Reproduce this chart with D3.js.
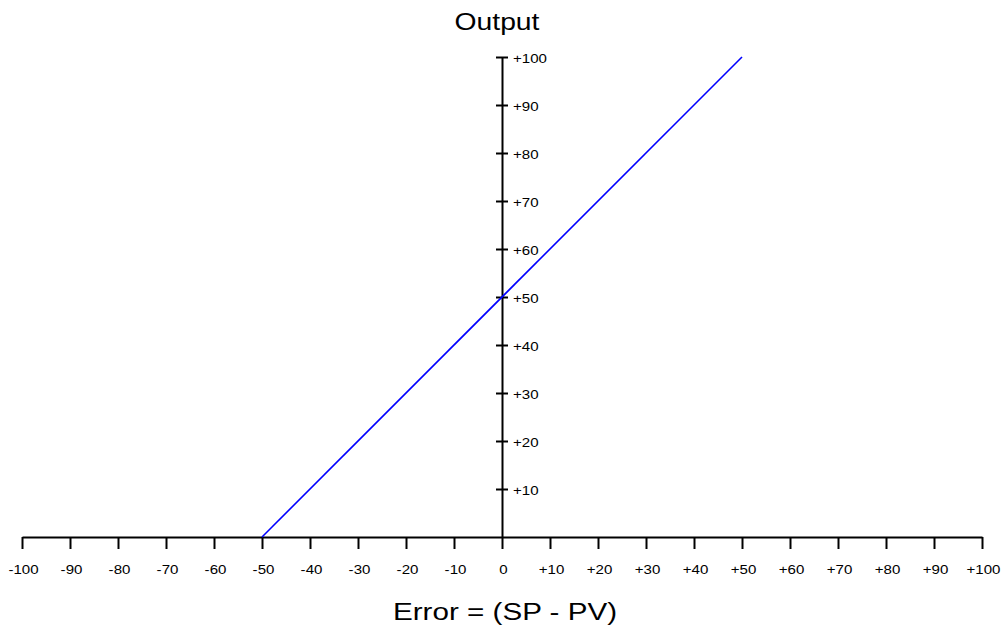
<!DOCTYPE html>
<html>
<head>
<meta charset="utf-8">
<script src="https://cdn.jsdelivr.net/npm/d3@7"></script>
<style>
  body { margin: 0; background: #fff; }
  text { font-family: Arial, "Liberation Sans", sans-serif; }
</style>
</head>
<body>
<div id="chart"></div>
<script>
var width = 1005, height = 626;

// data
var errorTicks = [-100, -90, -80, -70, -60, -50, -40, -30, -20, -10, 0, 10, 20, 30, 40, 50, 60, 70, 80, 90, 100];
var outputTicks = [10, 20, 30, 40, 50, 60, 70, 80, 90, 100];
var lineError = [-50, 50];
var lineOutput = [0, 100];

var xScale = d3.scaleLinear().domain([-100, 100]).range([22, 982]);
var yScale = d3.scaleLinear().domain([0, 100]).range([537, 57]);

// the reference text is a bit wider than plain Arial
var stretch = 1.16;

var fmt = function(d) { return d > 0 ? "+" + d : "" + d; };

var svg = d3.select("#chart").append("svg")
  .attr("width", width)
  .attr("height", height);

// x axis
var xAxis = svg.append("g")
  .attr("transform", "translate(0," + yScale(0) + ")")
  .call(d3.axisBottom(xScale).tickValues(errorTicks).tickFormat(fmt).tickSize(12).tickSizeOuter(0));
xAxis.attr("font-family", null).attr("font-size", null);
xAxis.select(".domain").attr("stroke", "#000").attr("stroke-width", 2);
xAxis.selectAll(".tick line").attr("stroke", "#000").attr("stroke-width", 2);
xAxis.selectAll(".tick text")
  .attr("y", null).attr("dy", null)
  .attr("transform", "translate(1,37) scale(" + stretch + ",1)")
  .attr("font-size", "13px").attr("fill", "#000");

// y axis
var yAxis = svg.append("g")
  .attr("transform", "translate(" + xScale(0) + ",0)")
  .call(d3.axisRight(yScale).tickValues(outputTicks).tickFormat(fmt).tickSize(6).tickSizeOuter(0));
yAxis.attr("font-family", null).attr("font-size", null);
yAxis.select(".domain").attr("stroke", "#000").attr("stroke-width", 2);
yAxis.selectAll(".tick line").attr("x1", -6).attr("x2", 6).attr("stroke", "#000").attr("stroke-width", 2);
yAxis.selectAll(".tick text")
  .attr("x", null).attr("dy", null)
  .attr("dominant-baseline", "central")
  .attr("transform", "translate(11,1) scale(" + stretch + ",1)")
  .attr("font-size", "13px").attr("fill", "#000");

// response line
var line = d3.line()
  .x(function(d) { return xScale(d[0]); })
  .y(function(d) { return yScale(d[1]); });

svg.append("path")
  .datum(d3.zip(lineError, lineOutput))
  .attr("d", line)
  .attr("fill", "none")
  .attr("stroke", "#0000ff")
  .attr("stroke-width", 1.6);

// titles
svg.append("text")
  .attr("transform", "translate(497,30) scale(1.23,1)")
  .attr("text-anchor", "middle")
  .attr("font-size", "23px")
  .text("Output");

svg.append("text")
  .attr("transform", "translate(" + (xScale(0) + 3) + ",620) scale(1.235,1)")
  .attr("text-anchor", "middle")
  .attr("font-size", "24px")
  .text("Error = (SP - PV)");
</script>
</body>
</html>
